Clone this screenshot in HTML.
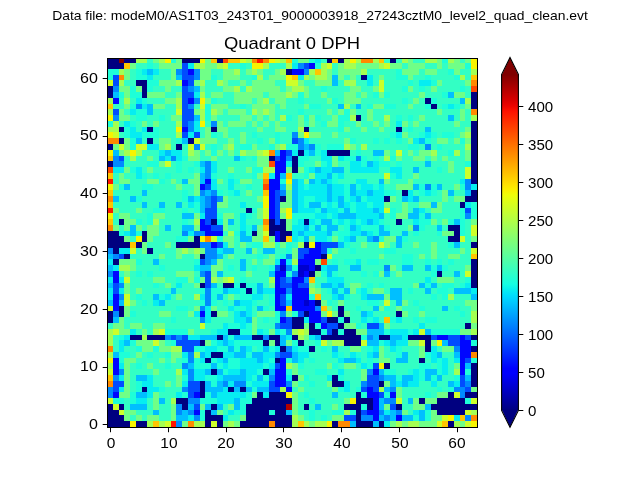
<!DOCTYPE html>
<html><head><meta charset="utf-8"><title>Quadrant 0 DPH</title>
<style>
html,body{margin:0;padding:0;background:#fff;}
body{width:640px;height:480px;position:relative;overflow:hidden;font-family:"Liberation Sans",sans-serif;color:#000;}
svg{position:absolute;display:block;}
.t{position:absolute;white-space:nowrap;line-height:1;will-change:transform;}
.sup{left:0;width:640px;top:9.8px;text-align:center;font-size:12.1px;transform:scaleX(1.148);transform-origin:320px 0;}
.ttl{left:107px;width:370px;top:35.3px;text-align:center;font-size:17px;transform:scaleX(1.083);transform-origin:184.8px 0;}
.yl{width:40px;text-align:right;font-size:14.1px;transform:scaleX(1.14);transform-origin:100% 50%;}
.xl{width:40px;text-align:center;font-size:14.1px;transform:scaleX(1.1);transform-origin:50% 50%;}
.cl{text-align:left;font-size:14.1px;transform:scaleX(1.07);transform-origin:0 50%;}
.frame{position:absolute;box-sizing:border-box;border:1.11px solid #000;}
</style></head><body>

<div class="t sup">Data file: modeM0/AS1T03_243T01_9000003918_27243cztM0_level2_quad_clean.evt</div>
<div class="t ttl">Quadrant 0 DPH</div>
<svg class="hm" style="left:107px;top:58px" width="370" height="369" viewBox="0 0 370 369" shape-rendering="crispEdges">
<path fill="#000080" d="M0 0h12v5h-12zM17 0h12v5h-12zM75 0h18v5h-18zM110 0h6v5h-6zM220 0h5v5h-5zM231 0h6v5h-6zM283 0h6v5h-6zM0 5h17v6h-17zM179 11h6v6h-6zM254 17h6v5h-6zM29 22h11v6h-11zM0 28h6v6h-6zM35 28h5v6h-5zM0 34h6v6h-6zM35 34h5v6h-5zM364 34h6v6h-6zM318 40h6v6h-6zM364 40h6v6h-6zM324 46h6v5h-6zM364 46h6v5h-6zM249 57h5v6h-5zM364 63h6v6h-6zM12 69h5v5h-5zM40 69h6v5h-6zM104 69h6v5h-6zM197 69h5v5h-5zM289 69h6v5h-6zM364 69h6v5h-6zM364 74h6v6h-6zM12 80h5v6h-5zM40 80h6v6h-6zM81 80h6v6h-6zM364 80h6v6h-6zM0 86h6v6h-6zM69 86h6v6h-6zM364 86h6v6h-6zM191 92h6v6h-6zM220 92h23v6h-23zM364 92h6v6h-6zM162 98h6v5h-6zM185 98h6v5h-6zM364 98h6v5h-6zM0 103h6v6h-6zM185 103h6v6h-6zM364 103h6v6h-6zM185 109h6v6h-6zM364 109h6v6h-6zM364 115h6v6h-6zM364 121h6v5h-6zM295 132h6v6h-6zM364 132h6v6h-6zM173 138h6v6h-6zM277 138h6v6h-6zM358 138h12v6h-12zM353 144h5v6h-5zM139 150h6v5h-6zM12 161h5v6h-5zM104 161h6v6h-6zM162 161h6v6h-6zM173 161h6v6h-6zM197 161h5v6h-5zM289 161h6v6h-6zM162 167h17v6h-17zM341 167h12v6h-12zM0 173h12v5h-12zM35 173h5v5h-5zM145 173h5v5h-5zM162 173h6v5h-6zM173 173h12v5h-12zM347 173h6v5h-6zM0 178h17v6h-17zM35 178h5v6h-5zM87 178h6v6h-6zM173 178h6v6h-6zM341 178h12v6h-12zM0 184h23v6h-23zM29 184h6v6h-6zM69 184h24v6h-24zM197 184h5v6h-5zM364 184h6v6h-6zM6 190h6v6h-6zM40 190h6v6h-6zM17 196h6v5h-6zM93 196h5v5h-5zM214 196h6v5h-6zM6 201h6v6h-6zM364 201h6v6h-6zM208 207h6v6h-6zM364 207h6v6h-6zM202 213h6v6h-6zM330 213h5v6h-5zM364 213h6v6h-6zM364 219h6v6h-6zM93 225h5v5h-5zM116 225h11v5h-11zM133 225h6v5h-6zM364 225h6v5h-6zM139 230h6v6h-6zM208 242h6v6h-6zM12 248h5v5h-5zM231 248h6v5h-6zM0 253h6v6h-6zM12 253h5v6h-5zM104 253h6v6h-6zM197 253h5v6h-5zM231 253h6v6h-6zM289 253h6v6h-6zM0 259h6v6h-6zM185 259h12v6h-12zM220 259h11v6h-11zM237 259h6v6h-6zM185 265h12v6h-12zM202 265h6v6h-6zM231 265h6v6h-6zM358 265h6v6h-6zM121 271h12v6h-12zM202 271h12v6h-12zM225 271h6v6h-6zM237 271h12v6h-12zM23 277h12v5h-12zM40 277h18v5h-18zM110 277h6v5h-6zM145 277h11v5h-11zM162 277h11v5h-11zM185 277h6v5h-6zM214 277h40v5h-40zM272 277h11v5h-11zM301 277h23v5h-23zM364 277h6v5h-6zM93 282h5v6h-5zM156 282h6v6h-6zM168 282h5v6h-5zM191 282h6v6h-6zM237 282h17v6h-17zM318 282h6v6h-6zM173 288h6v6h-6zM202 288h6v6h-6zM318 288h6v6h-6zM364 288h6v6h-6zM104 294h12v6h-12zM98 300h6v5h-6zM168 300h5v5h-5zM312 300h6v5h-6zM277 305h6v6h-6zM364 305h6v6h-6zM104 311h6v6h-6zM156 311h6v6h-6zM364 311h6v6h-6zM185 317h6v6h-6zM225 317h6v6h-6zM364 317h6v6h-6zM93 323h5v6h-5zM225 323h12v6h-12zM272 323h5v6h-5zM364 323h6v6h-6zM35 329h5v5h-5zM93 329h5v5h-5zM121 329h6v5h-6zM133 329h6v5h-6zM93 334h5v6h-5zM150 334h6v6h-6zM162 334h17v6h-17zM249 334h5v6h-5zM341 334h6v6h-6zM358 334h12v6h-12zM69 340h12v6h-12zM145 340h40v6h-40zM249 340h17v6h-17zM312 340h6v6h-6zM330 340h28v6h-28zM0 346h6v6h-6zM12 346h5v6h-5zM75 346h6v6h-6zM104 346h6v6h-6zM139 346h40v6h-40zM197 346h5v6h-5zM237 346h17v6h-17zM260 346h6v6h-6zM289 346h6v6h-6zM324 346h46v6h-46zM0 352h12v5h-12zM98 352h6v5h-6zM139 352h23v5h-23zM168 352h11v5h-11zM249 352h5v5h-5zM330 352h28v5h-28zM0 357h17v6h-17zM98 357h18v6h-18zM139 357h46v6h-46zM249 357h5v6h-5zM0 363h23v6h-23zM29 363h11v6h-11zM98 363h6v6h-6zM110 363h6v6h-6zM133 363h29v6h-29zM168 363h17v6h-17zM225 363h6v6h-6zM249 363h17v6h-17zM272 363h5v6h-5zM341 363h6v6h-6z"/>
<path fill="#800000" d="M12 0h5v5h-5z"/>
<path fill="#a4ff52" d="M29 0h11v5h-11zM52 0h6v5h-6zM139 0h6v5h-6zM173 0h6v5h-6zM237 0h6v5h-6zM249 0h5v5h-5zM266 0h6v5h-6zM295 0h6v5h-6zM318 0h12v5h-12zM341 0h6v5h-6zM87 5h11v6h-11zM110 5h6v6h-6zM156 5h6v6h-6zM179 5h6v6h-6zM214 5h6v6h-6zM237 5h12v6h-12zM272 5h5v6h-5zM12 11h5v6h-5zM127 11h6v6h-6zM145 11h5v6h-5zM173 11h6v6h-6zM202 11h6v6h-6zM214 11h6v6h-6zM254 11h6v6h-6zM364 11h6v6h-6zM150 17h6v5h-6zM197 17h5v5h-5zM208 17h12v5h-12zM353 17h5v5h-5zM12 22h5v6h-5zM69 22h6v6h-6zM93 22h5v6h-5zM110 22h6v6h-6zM237 22h12v6h-12zM127 28h6v6h-6zM139 28h6v6h-6zM185 28h12v6h-12zM93 34h5v6h-5zM179 34h6v6h-6zM0 40h6v6h-6zM17 40h6v6h-6zM69 40h6v6h-6zM156 40h6v6h-6zM358 40h6v6h-6zM69 46h6v5h-6zM237 46h6v5h-6zM0 51h6v6h-6zM93 51h5v6h-5zM104 51h6v6h-6zM145 51h5v6h-5zM156 51h6v6h-6zM93 57h5v6h-5zM173 57h6v6h-6zM243 57h6v6h-6zM277 57h6v6h-6zM364 57h6v6h-6zM6 63h6v6h-6zM69 63h6v6h-6zM0 69h12v5h-12zM191 69h6v5h-6zM69 74h6v6h-6zM358 74h6v6h-6zM58 86h6v6h-6zM121 86h6v6h-6zM173 86h6v6h-6zM237 86h6v6h-6zM254 86h6v6h-6zM358 86h6v6h-6zM17 92h6v6h-6zM29 92h6v6h-6zM81 92h6v6h-6zM133 92h6v6h-6zM150 92h6v6h-6zM324 92h6v6h-6zM347 92h6v6h-6zM23 98h6v5h-6zM277 98h6v5h-6zM156 109h12v6h-12zM179 126h6v6h-6zM173 150h6v5h-6zM46 161h6v6h-6zM87 161h6v6h-6zM121 173h6v5h-6zM156 184h12v6h-12zM191 184h6v6h-6zM75 190h6v6h-6zM87 190h6v6h-6zM185 201h6v6h-6zM12 207h11v6h-11zM104 219h6v6h-6zM116 219h5v6h-5zM162 219h6v6h-6zM202 230h6v6h-6zM87 236h6v6h-6zM341 236h6v6h-6zM364 253h6v6h-6zM364 259h6v6h-6zM0 271h6v6h-6zM46 271h6v6h-6zM185 271h6v6h-6zM197 271h5v6h-5zM364 271h6v6h-6zM0 277h6v5h-6zM35 277h5v5h-5zM191 277h6v5h-6zM0 282h6v6h-6zM225 282h12v6h-12zM64 288h11v6h-11zM0 294h6v6h-6zM87 294h6v6h-6zM0 305h6v6h-6zM179 305h6v6h-6zM69 311h6v6h-6zM347 311h6v6h-6zM173 329h6v5h-6zM272 329h5v5h-5zM64 340h5v6h-5zM237 352h6v5h-6zM364 352h6v5h-6zM185 357h6v6h-6zM40 363h6v6h-6zM52 363h6v6h-6zM87 363h11v6h-11zM121 363h6v6h-6zM185 363h6v6h-6zM197 363h5v6h-5zM208 363h12v6h-12zM289 363h6v6h-6zM301 363h11v6h-11zM347 363h6v6h-6z"/>
<path fill="#33ffc4" d="M40 0h6v5h-6zM214 0h6v5h-6zM277 0h6v5h-6zM289 0h6v5h-6zM306 0h12v5h-12zM353 0h5v5h-5zM29 5h11v6h-11zM46 5h6v6h-6zM121 5h12v6h-12zM139 5h6v6h-6zM162 5h17v6h-17zM225 5h6v6h-6zM295 5h6v6h-6zM318 5h12v6h-12zM335 5h6v6h-6zM23 11h6v6h-6zM52 11h12v6h-12zM104 11h12v6h-12zM133 11h6v6h-6zM156 11h12v6h-12zM225 11h6v6h-6zM260 11h29v6h-29zM312 11h6v6h-6zM330 11h11v6h-11zM353 11h11v6h-11zM23 17h6v5h-6zM46 17h18v5h-18zM110 17h6v5h-6zM133 17h12v5h-12zM156 17h6v5h-6zM237 17h6v5h-6zM249 17h5v5h-5zM266 17h6v5h-6zM277 17h12v5h-12zM306 17h12v5h-12zM324 17h23v5h-23zM358 17h6v5h-6zM17 22h12v6h-12zM98 22h12v6h-12zM121 22h12v6h-12zM139 22h6v6h-6zM168 22h11v6h-11zM197 22h11v6h-11zM231 22h6v6h-6zM249 22h11v6h-11zM266 22h6v6h-6zM277 22h24v6h-24zM306 22h6v6h-6zM335 22h23v6h-23zM46 28h12v6h-12zM64 28h11v6h-11zM98 28h18v6h-18zM133 28h6v6h-6zM173 28h6v6h-6zM202 28h12v6h-12zM220 28h23v6h-23zM254 28h12v6h-12zM277 28h18v6h-18zM306 28h6v6h-6zM318 28h6v6h-6zM330 28h23v6h-23zM358 28h6v6h-6zM58 34h11v6h-11zM98 34h6v6h-6zM116 34h11v6h-11zM156 34h6v6h-6zM202 34h12v6h-12zM220 34h17v6h-17zM249 34h5v6h-5zM260 34h6v6h-6zM283 34h29v6h-29zM318 34h17v6h-17zM358 34h6v6h-6zM12 40h5v6h-5zM23 40h6v6h-6zM40 40h18v6h-18zM110 40h17v6h-17zM145 40h5v6h-5zM162 40h6v6h-6zM179 40h12v6h-12zM197 40h23v6h-23zM231 40h6v6h-6zM254 40h41v6h-41zM301 40h5v6h-5zM312 40h6v6h-6zM330 40h23v6h-23zM6 46h11v5h-11zM58 46h11v5h-11zM87 46h6v5h-6zM121 46h12v5h-12zM139 46h6v5h-6zM168 46h5v5h-5zM179 46h18v5h-18zM214 46h17v5h-17zM243 46h6v5h-6zM254 46h6v5h-6zM289 46h12v5h-12zM306 46h12v5h-12zM330 46h5v5h-5zM353 46h5v5h-5zM17 51h6v6h-6zM46 51h23v6h-23zM116 51h5v6h-5zM139 51h6v6h-6zM168 51h23v6h-23zM197 51h23v6h-23zM225 51h6v6h-6zM249 51h11v6h-11zM266 51h64v6h-64zM335 51h18v6h-18zM358 51h6v6h-6zM23 57h6v6h-6zM40 57h12v6h-12zM58 57h6v6h-6zM110 57h23v6h-23zM145 57h5v6h-5zM156 57h6v6h-6zM168 57h5v6h-5zM185 57h6v6h-6zM214 57h11v6h-11zM254 57h6v6h-6zM266 57h11v6h-11zM283 57h6v6h-6zM295 57h6v6h-6zM306 57h6v6h-6zM318 57h23v6h-23zM347 57h6v6h-6zM358 57h6v6h-6zM12 63h5v6h-5zM29 63h6v6h-6zM40 63h6v6h-6zM52 63h17v6h-17zM98 63h6v6h-6zM116 63h5v6h-5zM139 63h6v6h-6zM150 63h6v6h-6zM162 63h6v6h-6zM173 63h18v6h-18zM197 63h5v6h-5zM208 63h6v6h-6zM237 63h12v6h-12zM254 63h12v6h-12zM272 63h5v6h-5zM283 63h6v6h-6zM301 63h5v6h-5zM312 63h35v6h-35zM353 63h11v6h-11zM29 69h6v5h-6zM52 69h17v5h-17zM93 69h5v5h-5zM121 69h29v5h-29zM156 69h12v5h-12zM179 69h12v5h-12zM202 69h29v5h-29zM243 69h11v5h-11zM260 69h12v5h-12zM277 69h12v5h-12zM295 69h6v5h-6zM306 69h12v5h-12zM324 69h34v5h-34zM12 74h5v6h-5zM52 74h17v6h-17zM93 74h5v6h-5zM110 74h6v6h-6zM121 74h12v6h-12zM139 74h6v6h-6zM150 74h18v6h-18zM173 74h12v6h-12zM214 74h11v6h-11zM231 74h52v6h-52zM301 74h11v6h-11zM330 74h5v6h-5zM347 74h6v6h-6zM35 80h5v6h-5zM46 80h6v6h-6zM64 80h5v6h-5zM110 80h11v6h-11zM127 80h6v6h-6zM139 80h11v6h-11zM156 80h6v6h-6zM173 80h12v6h-12zM202 80h35v6h-35zM249 80h17v6h-17zM272 80h5v6h-5zM283 80h6v6h-6zM295 80h6v6h-6zM324 80h6v6h-6zM341 80h6v6h-6zM64 86h5v6h-5zM75 86h6v6h-6zM98 86h6v6h-6zM110 86h6v6h-6zM127 86h6v6h-6zM150 86h12v6h-12zM214 86h6v6h-6zM249 86h5v6h-5zM260 86h41v6h-41zM312 86h6v6h-6zM324 86h6v6h-6zM335 86h23v6h-23zM35 92h17v6h-17zM75 92h6v6h-6zM93 92h5v6h-5zM116 92h5v6h-5zM127 92h6v6h-6zM243 92h6v6h-6zM254 92h12v6h-12zM283 92h6v6h-6zM295 92h6v6h-6zM306 92h6v6h-6zM330 92h11v6h-11zM353 92h5v6h-5zM17 98h6v5h-6zM29 98h11v5h-11zM46 98h6v5h-6zM93 98h11v5h-11zM110 98h17v5h-17zM139 98h6v5h-6zM202 98h12v5h-12zM260 98h6v5h-6zM272 98h5v5h-5zM295 98h11v5h-11zM318 98h6v5h-6zM330 98h5v5h-5zM341 98h17v5h-17zM17 103h23v6h-23zM64 103h5v6h-5zM75 103h12v6h-12zM110 103h40v6h-40zM197 103h11v6h-11zM231 103h12v6h-12zM283 103h6v6h-6zM295 103h23v6h-23zM324 103h17v6h-17zM347 103h11v6h-11zM35 109h5v6h-5zM46 109h23v6h-23zM75 109h6v6h-6zM87 109h6v6h-6zM110 109h11v6h-11zM127 109h12v6h-12zM237 109h6v6h-6zM272 109h11v6h-11zM295 109h11v6h-11zM312 109h18v6h-18zM335 109h6v6h-6zM347 109h11v6h-11zM6 115h6v6h-6zM17 115h12v6h-12zM40 115h6v6h-6zM52 115h6v6h-6zM64 115h23v6h-23zM110 115h11v6h-11zM127 115h18v6h-18zM185 115h12v6h-12zM237 115h40v6h-40zM295 115h11v6h-11zM312 115h46v6h-46zM6 121h6v5h-6zM23 121h17v5h-17zM58 121h6v5h-6zM69 121h6v5h-6zM116 121h5v5h-5zM145 121h11v5h-11zM231 121h18v5h-18zM260 121h12v5h-12zM283 121h18v5h-18zM306 121h47v5h-47zM23 126h12v6h-12zM46 126h23v6h-23zM75 126h12v6h-12zM110 126h11v6h-11zM127 126h12v6h-12zM145 126h11v6h-11zM277 126h12v6h-12zM335 126h12v6h-12zM6 132h29v6h-29zM40 132h35v6h-35zM81 132h6v6h-6zM116 132h5v6h-5zM133 132h6v6h-6zM145 132h11v6h-11zM289 132h6v6h-6zM306 132h6v6h-6zM330 132h5v6h-5zM347 132h11v6h-11zM12 138h11v6h-11zM35 138h40v6h-40zM121 138h29v6h-29zM289 138h6v6h-6zM312 138h23v6h-23zM341 138h6v6h-6zM6 144h29v6h-29zM40 144h12v6h-12zM58 144h11v6h-11zM75 144h6v6h-6zM121 144h12v6h-12zM139 144h17v6h-17zM283 144h12v6h-12zM301 144h11v6h-11zM335 144h18v6h-18zM12 150h17v5h-17zM35 150h11v5h-11zM58 150h17v5h-17zM81 150h6v5h-6zM110 150h29v5h-29zM289 150h6v5h-6zM301 150h5v5h-5zM318 150h6v5h-6zM335 150h18v5h-18zM6 155h6v6h-6zM23 155h17v6h-17zM58 155h17v6h-17zM127 155h6v6h-6zM145 155h5v6h-5zM277 155h6v6h-6zM324 155h29v6h-29zM6 161h6v6h-6zM35 161h5v6h-5zM52 161h23v6h-23zM81 161h6v6h-6zM127 161h6v6h-6zM139 161h17v6h-17zM277 161h12v6h-12zM295 161h11v6h-11zM330 161h5v6h-5zM358 161h6v6h-6zM12 167h5v6h-5zM35 167h5v6h-5zM52 167h6v6h-6zM64 167h11v6h-11zM121 167h12v6h-12zM231 167h6v6h-6zM283 167h18v6h-18zM318 167h12v6h-12zM335 167h6v6h-6zM358 167h6v6h-6zM52 173h23v5h-23zM116 173h5v5h-5zM225 173h6v5h-6zM283 173h12v5h-12zM301 173h5v5h-5zM312 173h18v5h-18zM358 173h6v5h-6zM23 178h6v6h-6zM46 178h23v6h-23zM127 178h6v6h-6zM249 178h11v6h-11zM301 178h40v6h-40zM358 178h6v6h-6zM40 184h18v6h-18zM64 184h5v6h-5zM127 184h6v6h-6zM139 184h6v6h-6zM168 184h5v6h-5zM185 184h6v6h-6zM243 184h11v6h-11zM260 184h12v6h-12zM283 184h6v6h-6zM295 184h11v6h-11zM312 184h12v6h-12zM330 184h11v6h-11zM353 184h11v6h-11zM29 190h6v6h-6zM46 190h23v6h-23zM127 190h12v6h-12zM150 190h6v6h-6zM168 190h11v6h-11zM231 190h12v6h-12zM249 190h28v6h-28zM289 190h35v6h-35zM330 190h23v6h-23zM358 190h6v6h-6zM23 196h29v5h-29zM58 196h11v5h-11zM75 196h12v5h-12zM116 196h5v5h-5zM127 196h23v5h-23zM156 196h6v5h-6zM168 196h5v5h-5zM225 196h47v5h-47zM277 196h18v5h-18zM306 196h6v5h-6zM318 196h6v5h-6zM330 196h11v5h-11zM353 196h11v5h-11zM35 201h11v6h-11zM52 201h35v6h-35zM116 201h17v6h-17zM139 201h6v6h-6zM150 201h6v6h-6zM220 201h5v6h-5zM231 201h6v6h-6zM254 201h6v6h-6zM272 201h23v6h-23zM306 201h12v6h-12zM324 201h6v6h-6zM335 201h6v6h-6zM347 201h17v6h-17zM29 207h23v6h-23zM58 207h29v6h-29zM116 207h5v6h-5zM127 207h6v6h-6zM139 207h6v6h-6zM150 207h12v6h-12zM231 207h12v6h-12zM254 207h23v6h-23zM289 207h6v6h-6zM306 207h12v6h-12zM341 207h17v6h-17zM12 213h5v6h-5zM23 213h6v6h-6zM35 213h5v6h-5zM46 213h23v6h-23zM87 213h6v6h-6zM116 213h23v6h-23zM145 213h17v6h-17zM231 213h23v6h-23zM260 213h6v6h-6zM283 213h6v6h-6zM295 213h29v6h-29zM335 213h12v6h-12zM353 213h5v6h-5zM23 219h23v6h-23zM58 219h11v6h-11zM127 219h6v6h-6zM139 219h23v6h-23zM208 219h12v6h-12zM237 219h81v6h-81zM324 219h6v6h-6zM347 219h11v6h-11zM23 225h23v5h-23zM52 225h6v5h-6zM64 225h5v5h-5zM75 225h12v5h-12zM110 225h6v5h-6zM156 225h6v5h-6zM208 225h6v5h-6zM237 225h6v5h-6zM254 225h6v5h-6zM266 225h6v5h-6zM277 225h29v5h-29zM330 225h5v5h-5zM347 225h6v5h-6zM23 230h6v6h-6zM35 230h29v6h-29zM69 230h24v6h-24zM214 230h6v6h-6zM260 230h6v6h-6zM277 230h6v6h-6zM295 230h6v6h-6zM306 230h12v6h-12zM324 230h6v6h-6zM341 230h6v6h-6zM23 236h6v6h-6zM35 236h11v6h-11zM64 236h5v6h-5zM75 236h12v6h-12zM116 236h5v6h-5zM127 236h6v6h-6zM156 236h6v6h-6zM214 236h11v6h-11zM243 236h11v6h-11zM295 236h29v6h-29zM330 236h5v6h-5zM347 236h17v6h-17zM29 242h6v6h-6zM40 242h6v6h-6zM58 242h35v6h-35zM110 242h6v6h-6zM121 242h6v6h-6zM150 242h12v6h-12zM225 242h6v6h-6zM237 242h23v6h-23zM272 242h5v6h-5zM283 242h6v6h-6zM301 242h5v6h-5zM312 242h46v6h-46zM23 248h46v5h-46zM81 248h6v5h-6zM110 248h11v5h-11zM145 248h5v5h-5zM162 248h6v5h-6zM225 248h6v5h-6zM237 248h12v5h-12zM254 248h12v5h-12zM283 248h6v5h-6zM295 248h17v5h-17zM318 248h17v5h-17zM341 248h6v5h-6zM353 248h11v5h-11zM29 253h23v6h-23zM64 253h17v6h-17zM121 253h6v6h-6zM145 253h5v6h-5zM243 253h11v6h-11zM266 253h23v6h-23zM301 253h11v6h-11zM318 253h35v6h-35zM358 253h6v6h-6zM17 259h47v6h-47zM69 259h24v6h-24zM104 259h23v6h-23zM150 259h6v6h-6zM162 259h6v6h-6zM243 259h11v6h-11zM272 259h5v6h-5zM295 259h11v6h-11zM312 259h6v6h-6zM330 259h34v6h-34zM0 265h6v6h-6zM17 265h6v6h-6zM35 265h11v6h-11zM58 265h35v6h-35zM98 265h18v6h-18zM150 265h18v6h-18zM254 265h6v6h-6zM283 265h29v6h-29zM318 265h40v6h-40zM29 271h6v6h-6zM40 271h6v6h-6zM87 271h17v6h-17zM6 277h6v5h-6zM6 282h6v6h-6zM58 282h6v6h-6zM197 282h11v6h-11zM6 288h6v6h-6zM17 288h12v6h-12zM145 288h5v6h-5zM208 288h6v6h-6zM220 288h5v6h-5zM231 288h12v6h-12zM254 288h6v6h-6zM277 288h6v6h-6zM295 288h17v6h-17zM330 288h5v6h-5zM23 294h6v6h-6zM35 294h5v6h-5zM46 294h12v6h-12zM202 294h23v6h-23zM237 294h6v6h-6zM254 294h6v6h-6zM277 294h12v6h-12zM301 294h11v6h-11zM335 294h12v6h-12zM29 300h23v5h-23zM58 300h6v5h-6zM69 300h6v5h-6zM197 300h5v5h-5zM208 300h23v5h-23zM254 300h6v5h-6zM266 300h6v5h-6zM283 300h6v5h-6zM301 300h11v5h-11zM318 300h6v5h-6zM341 300h6v5h-6zM23 305h6v6h-6zM35 305h5v6h-5zM46 305h12v6h-12zM64 305h11v6h-11zM197 305h23v6h-23zM231 305h6v6h-6zM249 305h5v6h-5zM283 305h29v6h-29zM324 305h6v6h-6zM341 305h6v6h-6zM23 311h23v6h-23zM52 311h17v6h-17zM191 311h17v6h-17zM220 311h11v6h-11zM237 311h17v6h-17zM289 311h12v6h-12zM341 311h6v6h-6zM23 317h6v6h-6zM46 317h23v6h-23zM202 317h18v6h-18zM237 317h17v6h-17zM335 317h12v6h-12zM23 323h6v6h-6zM46 323h12v6h-12zM64 323h5v6h-5zM191 323h11v6h-11zM208 323h12v6h-12zM243 323h11v6h-11zM312 323h12v6h-12zM330 323h11v6h-11zM23 329h6v5h-6zM58 329h17v5h-17zM185 329h6v5h-6zM197 329h28v5h-28zM243 329h6v5h-6zM295 329h35v5h-35zM335 329h6v5h-6zM52 334h17v6h-17zM191 334h6v6h-6zM202 334h23v6h-23zM231 334h18v6h-18zM295 334h23v6h-23zM324 334h6v6h-6zM17 340h6v6h-6zM40 340h6v6h-6zM58 340h6v6h-6zM191 340h11v6h-11zM208 340h29v6h-29zM295 340h6v6h-6zM17 346h6v6h-6zM40 346h6v6h-6zM52 346h12v6h-12zM116 346h5v6h-5zM191 346h6v6h-6zM202 346h6v6h-6zM214 346h11v6h-11zM231 346h6v6h-6zM295 346h11v6h-11zM29 352h17v5h-17zM52 352h12v5h-12zM116 352h5v5h-5zM191 352h11v5h-11zM208 352h17v5h-17zM301 352h5v5h-5zM23 357h6v6h-6zM35 357h5v6h-5zM52 357h12v6h-12zM121 357h12v6h-12zM197 357h5v6h-5zM208 357h6v6h-6zM220 357h5v6h-5z"/>
<path fill="#70ff87" d="M46 0h6v5h-6zM69 0h6v5h-6zM98 0h6v5h-6zM191 0h11v5h-11zM301 0h5v5h-5zM330 0h5v5h-5zM347 0h6v5h-6zM358 0h6v5h-6zM23 5h6v6h-6zM52 5h23v6h-23zM98 5h12v6h-12zM231 5h6v6h-6zM249 5h23v6h-23zM283 5h12v6h-12zM301 5h17v6h-17zM330 5h5v6h-5zM341 5h17v6h-17zM17 11h6v6h-6zM64 11h5v6h-5zM93 11h11v6h-11zM116 11h11v6h-11zM139 11h6v6h-6zM150 11h6v6h-6zM168 11h5v6h-5zM220 11h5v6h-5zM231 11h23v6h-23zM295 11h17v6h-17zM318 11h12v6h-12zM347 11h6v6h-6zM17 17h6v5h-6zM64 17h5v5h-5zM93 17h11v5h-11zM116 17h17v5h-17zM162 17h17v5h-17zM202 17h6v5h-6zM220 17h5v5h-5zM231 17h6v5h-6zM243 17h6v5h-6zM272 17h5v5h-5zM301 17h5v5h-5zM52 22h17v6h-17zM87 22h6v6h-6zM116 22h5v6h-5zM133 22h6v6h-6zM145 22h23v6h-23zM191 22h6v6h-6zM208 22h17v6h-17zM330 22h5v6h-5zM358 22h6v6h-6zM12 28h11v6h-11zM29 28h6v6h-6zM58 28h6v6h-6zM93 28h5v6h-5zM116 28h11v6h-11zM145 28h28v6h-28zM179 28h6v6h-6zM197 28h5v6h-5zM243 28h11v6h-11zM266 28h6v6h-6zM301 28h5v6h-5zM324 28h6v6h-6zM17 34h6v6h-6zM40 34h18v6h-18zM69 34h6v6h-6zM104 34h12v6h-12zM127 34h29v6h-29zM162 34h17v6h-17zM185 34h6v6h-6zM197 34h5v6h-5zM214 34h6v6h-6zM237 34h12v6h-12zM254 34h6v6h-6zM272 34h5v6h-5zM312 34h6v6h-6zM347 34h11v6h-11zM58 40h11v6h-11zM98 40h6v6h-6zM127 40h18v6h-18zM150 40h6v6h-6zM168 40h11v6h-11zM220 40h5v6h-5zM237 40h17v6h-17zM306 40h6v6h-6zM17 46h6v5h-6zM46 46h12v5h-12zM104 46h17v5h-17zM145 46h23v5h-23zM173 46h6v5h-6zM197 46h5v5h-5zM266 46h11v5h-11zM301 46h5v5h-5zM358 46h6v5h-6zM12 51h5v6h-5zM87 51h6v6h-6zM110 51h6v6h-6zM121 51h18v6h-18zM150 51h6v6h-6zM162 51h6v6h-6zM220 51h5v6h-5zM231 51h6v6h-6zM243 51h6v6h-6zM260 51h6v6h-6zM330 51h5v6h-5zM353 51h5v6h-5zM12 57h11v6h-11zM64 57h11v6h-11zM104 57h6v6h-6zM133 57h12v6h-12zM150 57h6v6h-6zM162 57h6v6h-6zM191 57h6v6h-6zM202 57h6v6h-6zM225 57h6v6h-6zM260 57h6v6h-6zM312 57h6v6h-6zM353 57h5v6h-5zM35 63h5v6h-5zM46 63h6v6h-6zM110 63h6v6h-6zM121 63h18v6h-18zM145 63h5v6h-5zM156 63h6v6h-6zM168 63h5v6h-5zM191 63h6v6h-6zM202 63h6v6h-6zM220 63h11v6h-11zM249 63h5v6h-5zM266 63h6v6h-6zM277 63h6v6h-6zM295 63h6v6h-6zM306 63h6v6h-6zM347 63h6v6h-6zM98 69h6v5h-6zM110 69h11v5h-11zM150 69h6v5h-6zM168 69h11v5h-11zM237 69h6v5h-6zM254 69h6v5h-6zM272 69h5v5h-5zM358 69h6v5h-6zM98 74h6v6h-6zM116 74h5v6h-5zM133 74h6v6h-6zM191 74h6v6h-6zM202 74h12v6h-12zM225 74h6v6h-6zM295 74h6v6h-6zM353 74h5v6h-5zM17 80h6v6h-6zM52 80h12v6h-12zM93 80h17v6h-17zM121 80h6v6h-6zM133 80h6v6h-6zM162 80h6v6h-6zM237 80h6v6h-6zM301 80h5v6h-5zM330 80h11v6h-11zM347 80h6v6h-6zM358 80h6v6h-6zM6 86h6v6h-6zM17 86h6v6h-6zM52 86h6v6h-6zM116 86h5v6h-5zM145 86h5v6h-5zM168 86h5v6h-5zM243 86h6v6h-6zM12 92h5v6h-5zM87 92h6v6h-6zM98 92h6v6h-6zM110 92h6v6h-6zM121 92h6v6h-6zM139 92h11v6h-11zM277 92h6v6h-6zM301 92h5v6h-5zM312 92h12v6h-12zM358 92h6v6h-6zM40 98h6v5h-6zM81 98h12v5h-12zM104 98h6v5h-6zM150 98h12v5h-12zM225 98h6v5h-6zM289 98h6v5h-6zM306 98h12v5h-12zM324 98h6v5h-6zM335 98h6v5h-6zM358 98h6v5h-6zM52 103h6v6h-6zM150 103h12v6h-12zM208 103h6v6h-6zM225 103h6v6h-6zM341 103h6v6h-6zM17 109h6v6h-6zM40 109h6v6h-6zM121 109h6v6h-6zM139 109h6v6h-6zM179 109h6v6h-6zM191 109h6v6h-6zM341 109h6v6h-6zM12 115h5v6h-5zM87 115h6v6h-6zM150 115h6v6h-6zM202 115h6v6h-6zM306 115h6v6h-6zM12 121h11v5h-11zM40 121h12v5h-12zM64 121h5v5h-5zM81 121h12v5h-12zM110 121h6v5h-6zM133 121h12v5h-12zM197 121h5v5h-5zM277 121h6v5h-6zM301 121h5v5h-5zM6 126h6v6h-6zM69 126h6v6h-6zM87 126h6v6h-6zM289 126h17v6h-17zM347 126h6v6h-6zM87 132h6v6h-6zM139 132h6v6h-6zM179 132h6v6h-6zM335 132h6v6h-6zM116 138h5v6h-5zM150 138h6v6h-6zM179 138h6v6h-6zM283 138h6v6h-6zM335 138h6v6h-6zM347 138h11v6h-11zM110 144h11v6h-11zM173 144h12v6h-12zM277 144h6v6h-6zM295 144h6v6h-6zM312 144h12v6h-12zM330 144h5v6h-5zM6 150h6v5h-6zM29 150h6v5h-6zM150 150h6v5h-6zM295 150h6v5h-6zM324 150h11v5h-11zM12 155h11v6h-11zM46 155h12v6h-12zM87 155h6v6h-6zM116 155h11v6h-11zM150 155h6v6h-6zM173 155h6v6h-6zM289 155h12v6h-12zM17 161h12v6h-12zM116 161h5v6h-5zM179 161h6v6h-6zM324 161h6v6h-6zM335 161h6v6h-6zM364 161h6v6h-6zM6 167h6v6h-6zM17 167h6v6h-6zM29 167h6v6h-6zM40 167h12v6h-12zM87 167h6v6h-6zM116 167h5v6h-5zM150 167h6v6h-6zM179 167h6v6h-6zM301 167h5v6h-5zM40 173h12v5h-12zM150 173h6v5h-6zM335 173h12v5h-12zM17 178h6v6h-6zM40 178h6v6h-6zM81 178h6v6h-6zM116 178h11v6h-11zM145 178h11v6h-11zM162 178h6v6h-6zM202 178h6v6h-6zM225 178h6v6h-6zM277 178h12v6h-12zM364 178h6v6h-6zM35 184h5v6h-5zM58 184h6v6h-6zM121 184h6v6h-6zM133 184h6v6h-6zM173 184h6v6h-6zM254 184h6v6h-6zM277 184h6v6h-6zM306 184h6v6h-6zM324 184h6v6h-6zM35 190h5v6h-5zM69 190h6v6h-6zM81 190h6v6h-6zM93 190h5v6h-5zM145 190h5v6h-5zM185 190h6v6h-6zM225 190h6v6h-6zM324 190h6v6h-6zM353 190h5v6h-5zM52 196h6v5h-6zM69 196h6v5h-6zM87 196h6v5h-6zM121 196h6v5h-6zM162 196h6v5h-6zM185 196h6v5h-6zM272 196h5v5h-5zM312 196h6v5h-6zM324 196h6v5h-6zM341 196h12v5h-12zM12 201h17v6h-17zM110 201h6v6h-6zM145 201h5v6h-5zM156 201h12v6h-12zM208 201h6v6h-6zM23 207h6v6h-6zM104 207h12v6h-12zM283 207h6v6h-6zM358 207h6v6h-6zM17 213h6v6h-6zM69 213h18v6h-18zM104 213h6v6h-6zM139 213h6v6h-6zM208 213h6v6h-6zM272 213h5v6h-5zM289 213h6v6h-6zM46 219h12v6h-12zM81 219h6v6h-6zM93 219h5v6h-5zM110 219h6v6h-6zM330 219h17v6h-17zM17 225h6v5h-6zM58 225h6v5h-6zM87 225h6v5h-6zM162 225h6v5h-6zM202 225h6v5h-6zM243 225h11v5h-11zM306 225h6v5h-6zM17 230h6v6h-6zM29 230h6v6h-6zM208 230h6v6h-6zM243 230h6v6h-6zM266 230h11v6h-11zM69 236h6v6h-6zM121 236h6v6h-6zM277 236h6v6h-6zM23 242h6v6h-6zM214 242h6v6h-6zM231 242h6v6h-6zM295 242h6v6h-6zM358 242h12v6h-12zM17 248h6v5h-6zM87 248h6v5h-6zM104 248h6v5h-6zM220 248h5v5h-5zM272 248h5v5h-5zM289 248h6v5h-6zM364 248h6v5h-6zM17 253h6v6h-6zM52 253h12v6h-12zM81 253h6v6h-6zM110 253h11v6h-11zM150 253h18v6h-18zM179 253h6v6h-6zM214 253h6v6h-6zM225 253h6v6h-6zM237 253h6v6h-6zM295 253h6v6h-6zM312 253h6v6h-6zM12 259h5v6h-5zM145 259h5v6h-5zM6 265h11v6h-11zM23 265h12v6h-12zM46 265h12v6h-12zM145 265h5v6h-5zM197 265h5v6h-5zM237 265h12v6h-12zM277 265h6v6h-6zM364 265h6v6h-6zM12 271h11v6h-11zM35 271h5v6h-5zM81 271h6v6h-6zM145 271h5v6h-5zM162 271h6v6h-6zM249 271h11v6h-11zM353 271h11v6h-11zM197 277h5v5h-5zM29 282h17v6h-17zM52 282h6v6h-6zM98 282h6v6h-6zM162 282h6v6h-6zM179 282h6v6h-6zM220 282h5v6h-5zM301 282h11v6h-11zM324 282h6v6h-6zM35 288h11v6h-11zM52 288h12v6h-12zM243 288h11v6h-11zM272 288h5v6h-5zM312 288h6v6h-6zM335 288h12v6h-12zM29 294h6v6h-6zM64 294h11v6h-11zM272 294h5v6h-5zM312 294h6v6h-6zM17 300h12v5h-12zM52 300h6v5h-6zM64 300h5v5h-5zM272 300h11v5h-11zM17 305h6v6h-6zM40 305h6v6h-6zM185 305h6v6h-6zM220 305h5v6h-5zM237 305h12v6h-12zM347 305h6v6h-6zM17 311h6v6h-6zM46 311h6v6h-6zM185 311h6v6h-6zM254 311h6v6h-6zM17 317h6v6h-6zM69 317h6v6h-6zM191 317h6v6h-6zM254 317h6v6h-6zM17 323h6v6h-6zM58 323h6v6h-6zM69 323h6v6h-6zM185 323h6v6h-6zM220 323h5v6h-5zM277 323h6v6h-6zM17 329h6v5h-6zM191 329h6v5h-6zM225 329h6v5h-6zM289 329h6v5h-6zM364 329h6v5h-6zM12 334h11v6h-11zM46 334h6v6h-6zM145 334h5v6h-5zM185 334h6v6h-6zM289 334h6v6h-6zM330 334h11v6h-11zM46 340h6v6h-6zM185 340h6v6h-6zM237 340h6v6h-6zM306 340h6v6h-6zM318 340h12v6h-12zM46 346h6v6h-6zM64 346h5v6h-5zM93 346h5v6h-5zM121 346h6v6h-6zM185 346h6v6h-6zM225 346h6v6h-6zM277 346h6v6h-6zM306 346h12v6h-12zM17 352h12v5h-12zM64 352h5v5h-5zM110 352h6v5h-6zM185 352h6v5h-6zM295 352h6v5h-6zM324 352h6v5h-6zM17 357h6v6h-6zM29 357h6v6h-6zM40 357h12v6h-12zM64 357h5v6h-5zM133 357h6v6h-6zM191 357h6v6h-6zM225 357h12v6h-12zM324 357h11v6h-11zM75 363h6v6h-6zM116 363h5v6h-5zM127 363h6v6h-6zM202 363h6v6h-6zM283 363h6v6h-6zM295 363h6v6h-6zM312 363h18v6h-18zM353 363h5v6h-5z"/>
<path fill="#f8f400" d="M58 0h6v5h-6zM93 0h5v5h-5zM162 0h6v5h-6zM243 0h6v5h-6zM364 0h6v5h-6zM145 5h11v6h-11zM364 5h6v6h-6zM179 17h6v5h-6zM93 40h5v6h-5zM0 57h6v6h-6zM93 63h5v6h-5zM69 69h6v5h-6zM0 74h6v6h-6zM197 74h5v6h-5zM0 92h6v6h-6zM23 92h6v6h-6zM179 121h6v5h-6zM0 126h6v6h-6zM156 138h6v6h-6zM156 144h6v6h-6zM179 150h6v5h-6zM0 155h6v6h-6zM179 155h6v6h-6zM29 178h6v6h-6zM93 178h5v6h-5zM202 184h6v6h-6zM220 253h5v6h-5zM330 282h5v6h-5zM0 300h6v5h-6zM272 305h5v6h-5zM179 334h6v6h-6zM243 340h6v6h-6zM341 357h6v6h-6zM23 363h6v6h-6zM220 363h5v6h-5zM364 363h6v6h-6z"/>
<path fill="#1effd8" d="M64 0h5v5h-5zM185 0h6v5h-6zM202 0h6v5h-6zM335 0h6v5h-6zM40 5h6v6h-6zM133 5h6v6h-6zM208 5h6v6h-6zM358 5h6v6h-6zM0 11h12v6h-12zM29 11h6v6h-6zM289 11h6v6h-6zM341 11h6v6h-6zM0 17h6v5h-6zM29 17h11v5h-11zM104 17h6v5h-6zM145 17h5v5h-5zM289 17h12v5h-12zM318 17h6v5h-6zM347 17h6v5h-6zM40 22h12v6h-12zM301 22h5v6h-5zM324 22h6v6h-6zM23 28h6v6h-6zM40 28h6v6h-6zM214 28h6v6h-6zM295 28h6v6h-6zM312 28h6v6h-6zM353 28h5v6h-5zM12 34h5v6h-5zM23 34h12v6h-12zM191 34h6v6h-6zM266 34h6v6h-6zM277 34h6v6h-6zM335 34h6v6h-6zM35 40h5v6h-5zM104 40h6v6h-6zM191 40h6v6h-6zM225 40h6v6h-6zM295 40h6v6h-6zM324 40h6v6h-6zM23 46h6v5h-6zM98 46h6v5h-6zM133 46h6v5h-6zM202 46h12v5h-12zM260 46h6v5h-6zM277 46h12v5h-12zM318 46h6v5h-6zM335 46h6v5h-6zM347 46h6v5h-6zM29 51h11v6h-11zM98 51h6v6h-6zM191 51h6v6h-6zM237 51h6v6h-6zM29 57h11v6h-11zM52 57h6v6h-6zM98 57h6v6h-6zM179 57h6v6h-6zM197 57h5v6h-5zM208 57h6v6h-6zM231 57h12v6h-12zM289 57h6v6h-6zM301 57h5v6h-5zM0 63h6v6h-6zM23 63h6v6h-6zM214 63h6v6h-6zM231 63h6v6h-6zM17 69h6v5h-6zM46 69h6v5h-6zM231 69h6v5h-6zM301 69h5v5h-5zM17 74h6v6h-6zM35 74h17v6h-17zM104 74h6v6h-6zM145 74h5v6h-5zM168 74h5v6h-5zM283 74h6v6h-6zM312 74h6v6h-6zM324 74h6v6h-6zM335 74h12v6h-12zM23 80h6v6h-6zM69 80h6v6h-6zM150 80h6v6h-6zM168 80h5v6h-5zM243 80h6v6h-6zM266 80h6v6h-6zM277 80h6v6h-6zM289 80h6v6h-6zM318 80h6v6h-6zM353 80h5v6h-5zM23 86h6v6h-6zM104 86h6v6h-6zM133 86h12v6h-12zM162 86h6v6h-6zM179 86h12v6h-12zM208 86h6v6h-6zM220 86h17v6h-17zM301 86h11v6h-11zM330 86h5v6h-5zM104 92h6v6h-6zM208 92h6v6h-6zM249 92h5v6h-5zM341 92h6v6h-6zM75 98h6v5h-6zM133 98h6v5h-6zM145 98h5v5h-5zM191 98h11v5h-11zM237 98h12v5h-12zM254 98h6v5h-6zM266 98h6v5h-6zM283 98h6v5h-6zM40 103h12v6h-12zM69 103h6v6h-6zM87 103h6v6h-6zM191 103h6v6h-6zM214 103h6v6h-6zM254 103h6v6h-6zM272 103h11v6h-11zM289 103h6v6h-6zM358 103h6v6h-6zM23 109h6v6h-6zM69 109h6v6h-6zM81 109h6v6h-6zM145 109h11v6h-11zM197 109h5v6h-5zM330 109h5v6h-5zM35 115h5v6h-5zM46 115h6v6h-6zM58 115h6v6h-6zM104 115h6v6h-6zM121 115h6v6h-6zM145 115h5v6h-5zM197 115h5v6h-5zM225 115h6v6h-6zM283 115h6v6h-6zM52 121h6v5h-6zM127 121h6v5h-6zM173 121h6v5h-6zM225 121h6v5h-6zM12 126h5v6h-5zM35 126h11v6h-11zM139 126h6v6h-6zM197 126h5v6h-5zM237 126h6v6h-6zM249 126h5v6h-5zM266 126h6v6h-6zM312 126h6v6h-6zM324 126h6v6h-6zM353 126h5v6h-5zM75 132h6v6h-6zM110 132h6v6h-6zM121 132h6v6h-6zM237 132h6v6h-6zM277 132h12v6h-12zM312 132h6v6h-6zM324 132h6v6h-6zM29 138h6v6h-6zM75 138h6v6h-6zM197 138h11v6h-11zM237 138h6v6h-6zM254 138h6v6h-6zM87 144h6v6h-6zM197 144h5v6h-5zM214 144h6v6h-6zM225 144h6v6h-6zM243 144h6v6h-6zM260 144h6v6h-6zM364 144h6v6h-6zM46 150h12v5h-12zM75 150h6v5h-6zM87 150h6v5h-6zM145 150h5v5h-5zM208 150h6v5h-6zM231 150h6v5h-6zM243 150h6v5h-6zM283 150h6v5h-6zM353 150h5v5h-5zM364 150h6v5h-6zM40 155h6v6h-6zM110 155h6v6h-6zM139 155h6v6h-6zM185 155h23v6h-23zM220 155h5v6h-5zM283 155h6v6h-6zM312 155h6v6h-6zM353 155h5v6h-5zM364 155h6v6h-6zM29 161h6v6h-6zM40 161h6v6h-6zM75 161h6v6h-6zM185 161h6v6h-6zM208 161h6v6h-6zM225 161h6v6h-6zM237 161h6v6h-6zM249 161h5v6h-5zM272 161h5v6h-5zM312 161h12v6h-12zM341 161h6v6h-6zM353 161h5v6h-5zM139 167h6v6h-6zM202 167h6v6h-6zM214 167h6v6h-6zM237 167h6v6h-6zM254 167h18v6h-18zM277 167h6v6h-6zM312 167h6v6h-6zM353 167h5v6h-5zM12 173h5v5h-5zM29 173h6v5h-6zM127 173h6v5h-6zM139 173h6v5h-6zM231 173h12v5h-12zM266 173h6v5h-6zM306 173h6v5h-6zM330 173h5v5h-5zM353 173h5v5h-5zM69 178h12v6h-12zM110 178h6v6h-6zM191 178h6v6h-6zM220 178h5v6h-5zM231 178h6v6h-6zM272 178h5v6h-5zM295 178h6v6h-6zM145 184h11v6h-11zM179 184h6v6h-6zM237 184h6v6h-6zM341 184h6v6h-6zM179 190h6v6h-6zM220 190h5v6h-5zM243 190h6v6h-6zM277 190h12v6h-12zM150 196h6v5h-6zM173 196h6v5h-6zM295 196h11v5h-11zM29 201h6v6h-6zM87 201h6v6h-6zM225 201h6v6h-6zM237 201h12v6h-12zM260 201h12v6h-12zM295 201h11v6h-11zM318 201h6v6h-6zM330 201h5v6h-5zM341 201h6v6h-6zM52 207h6v6h-6zM121 207h6v6h-6zM145 207h5v6h-5zM162 207h6v6h-6zM185 207h6v6h-6zM324 207h6v6h-6zM335 207h6v6h-6zM29 213h6v6h-6zM40 213h6v6h-6zM179 213h6v6h-6zM214 213h6v6h-6zM225 213h6v6h-6zM254 213h6v6h-6zM266 213h6v6h-6zM324 213h6v6h-6zM69 219h12v6h-12zM87 219h6v6h-6zM133 219h6v6h-6zM358 219h6v6h-6zM46 225h6v5h-6zM127 225h6v5h-6zM139 225h11v5h-11zM260 225h6v5h-6zM272 225h5v5h-5zM318 225h6v5h-6zM335 225h12v5h-12zM353 225h5v5h-5zM93 230h5v6h-5zM104 230h12v6h-12zM133 230h6v6h-6zM145 230h5v6h-5zM220 230h5v6h-5zM231 230h6v6h-6zM249 230h5v6h-5zM301 230h5v6h-5zM330 230h11v6h-11zM29 236h6v6h-6zM52 236h6v6h-6zM104 236h6v6h-6zM133 236h12v6h-12zM162 236h6v6h-6zM202 236h6v6h-6zM237 236h6v6h-6zM324 236h6v6h-6zM335 236h6v6h-6zM35 242h5v6h-5zM93 242h5v6h-5zM104 242h6v6h-6zM116 242h5v6h-5zM145 242h5v6h-5zM162 242h6v6h-6zM220 242h5v6h-5zM260 242h12v6h-12zM306 242h6v6h-6zM69 248h12v5h-12zM127 248h12v5h-12zM156 248h6v5h-6zM249 248h5v5h-5zM277 248h6v5h-6zM312 248h6v5h-6zM347 248h6v5h-6zM23 253h6v6h-6zM168 253h5v6h-5zM185 253h6v6h-6zM353 253h5v6h-5zM64 259h5v6h-5zM156 259h6v6h-6zM168 259h5v6h-5zM231 259h6v6h-6zM260 259h6v6h-6zM283 259h6v6h-6zM306 259h6v6h-6zM318 259h12v6h-12zM121 265h12v6h-12zM139 265h6v6h-6zM208 265h6v6h-6zM249 265h5v6h-5zM58 271h23v6h-23zM104 271h6v6h-6zM133 271h12v6h-12zM156 271h6v6h-6zM173 271h6v6h-6zM214 271h6v6h-6zM231 271h6v6h-6zM277 271h6v6h-6zM301 271h5v6h-5zM324 271h29v6h-29zM12 277h5v5h-5zM121 277h6v5h-6zM254 277h6v5h-6zM23 282h6v6h-6zM64 282h5v6h-5zM104 282h6v6h-6zM127 282h29v6h-29zM185 282h6v6h-6zM208 282h6v6h-6zM272 282h5v6h-5zM364 282h6v6h-6zM29 288h6v6h-6zM46 288h6v6h-6zM87 288h11v6h-11zM110 288h11v6h-11zM127 288h6v6h-6zM150 288h6v6h-6zM162 288h6v6h-6zM191 288h11v6h-11zM214 288h6v6h-6zM260 288h6v6h-6zM289 288h6v6h-6zM12 294h11v6h-11zM40 294h6v6h-6zM58 294h6v6h-6zM139 294h6v6h-6zM231 294h6v6h-6zM249 294h5v6h-5zM289 294h6v6h-6zM318 294h6v6h-6zM12 300h5v5h-5zM75 300h6v5h-6zM87 300h6v5h-6zM104 300h6v5h-6zM121 300h12v5h-12zM162 300h6v5h-6zM179 300h6v5h-6zM202 300h6v5h-6zM260 300h6v5h-6zM330 300h5v5h-5zM364 300h6v5h-6zM29 305h6v6h-6zM58 305h6v6h-6zM87 305h17v6h-17zM110 305h6v6h-6zM121 305h12v6h-12zM156 305h6v6h-6zM191 305h6v6h-6zM225 305h6v6h-6zM260 305h6v6h-6zM312 305h12v6h-12zM330 305h5v6h-5zM116 311h5v6h-5zM150 311h6v6h-6zM179 311h6v6h-6zM208 311h12v6h-12zM277 311h12v6h-12zM301 311h5v6h-5zM312 311h6v6h-6zM330 311h5v6h-5zM358 311h6v6h-6zM75 317h6v6h-6zM98 317h12v6h-12zM145 317h5v6h-5zM156 317h6v6h-6zM197 317h5v6h-5zM231 317h6v6h-6zM289 317h6v6h-6zM312 317h6v6h-6zM324 317h6v6h-6zM347 317h6v6h-6zM29 323h6v6h-6zM104 323h6v6h-6zM139 323h6v6h-6zM202 323h6v6h-6zM29 329h6v5h-6zM52 329h6v5h-6zM145 329h5v5h-5zM231 329h6v5h-6zM249 329h5v5h-5zM330 329h5v5h-5zM341 329h6v5h-6zM23 334h6v6h-6zM75 334h6v6h-6zM98 334h6v6h-6zM139 334h6v6h-6zM197 334h5v6h-5zM254 334h6v6h-6zM277 334h6v6h-6zM318 334h6v6h-6zM6 340h11v6h-11zM23 340h6v6h-6zM93 340h17v6h-17zM133 340h12v6h-12zM202 340h6v6h-6zM358 340h6v6h-6zM133 346h6v6h-6zM254 346h6v6h-6zM93 352h5v5h-5zM127 352h12v5h-12zM162 352h6v5h-6zM202 352h6v5h-6zM225 352h12v5h-12zM243 352h6v5h-6zM318 352h6v5h-6zM93 357h5v6h-5zM202 357h6v6h-6zM214 357h6v6h-6zM306 357h6v6h-6zM318 357h6v6h-6z"/>
<path fill="#ffc500" d="M104 0h6v5h-6zM121 0h12v5h-12zM179 0h6v5h-6zM225 0h6v5h-6zM272 0h5v5h-5zM17 5h6v6h-6zM208 11h6v6h-6zM185 17h6v5h-6zM364 17h6v5h-6zM0 46h6v5h-6zM0 98h6v5h-6zM0 115h6v6h-6zM156 115h6v6h-6zM179 115h6v6h-6zM0 132h6v6h-6zM156 132h6v6h-6zM0 144h6v6h-6zM0 161h6v6h-6zM156 167h6v6h-6zM156 178h6v6h-6zM179 178h6v6h-6zM23 184h6v6h-6zM364 196h6v5h-6zM202 219h6v6h-6zM208 236h6v6h-6zM179 248h6v5h-6zM214 248h6v5h-6zM277 259h6v6h-6zM0 317h6v6h-6zM353 357h5v6h-5zM46 363h6v6h-6zM191 363h6v6h-6zM335 363h6v6h-6z"/>
<path fill="#ff4900" d="M116 0h5v5h-5zM364 28h6v6h-6zM162 103h6v6h-6zM0 109h6v6h-6zM156 126h6v6h-6zM214 201h6v6h-6z"/>
<path fill="#cdff2a" d="M133 0h6v5h-6zM168 0h5v5h-5zM116 5h5v6h-5zM220 5h5v6h-5zM277 5h6v6h-6zM0 22h6v6h-6zM179 22h12v6h-12zM272 22h5v6h-5zM272 28h5v6h-5zM93 46h5v5h-5zM69 51h6v6h-6zM6 74h6v6h-6zM87 80h6v6h-6zM12 86h5v6h-5zM29 86h11v6h-11zM81 86h6v6h-6zM93 86h5v6h-5zM156 92h6v6h-6zM289 92h6v6h-6zM58 103h6v6h-6zM358 109h6v6h-6zM277 115h6v6h-6zM358 115h6v6h-6zM156 150h6v5h-6zM277 150h6v5h-6zM156 155h6v6h-6zM364 167h6v6h-6zM156 173h6v5h-6zM364 173h6v5h-6zM104 178h6v6h-6zM353 178h5v6h-5zM272 184h5v6h-5zM23 190h6v6h-6zM364 190h6v6h-6zM220 196h5v5h-5zM358 213h6v6h-6zM17 219h6v6h-6zM121 219h6v6h-6zM17 236h6v6h-6zM17 242h6v6h-6zM277 242h6v6h-6zM0 248h6v5h-6zM93 265h5v6h-5zM6 271h6v6h-6zM52 271h6v6h-6zM191 271h6v6h-6zM312 271h6v6h-6zM46 282h6v6h-6zM214 282h6v6h-6zM254 282h6v6h-6zM312 282h6v6h-6zM0 311h6v6h-6zM347 334h6v6h-6zM0 340h6v6h-6zM289 340h6v6h-6zM364 340h6v6h-6zM6 346h6v6h-6zM12 352h5v5h-5zM358 352h6v5h-6zM335 357h6v6h-6zM58 363h6v6h-6zM104 363h6v6h-6zM330 363h5v6h-5zM358 363h6v6h-6z"/>
<path fill="#ff8900" d="M145 0h5v5h-5zM156 0h6v5h-6zM254 0h12v5h-12zM12 17h5v5h-5zM364 22h6v6h-6zM364 51h6v6h-6zM0 80h12v6h-12zM162 92h6v6h-6zM156 121h6v5h-6zM0 138h6v6h-6zM156 161h6v6h-6zM0 167h6v6h-6zM98 178h6v6h-6zM0 288h6v6h-6zM364 294h6v6h-6zM0 323h6v6h-6zM364 357h6v6h-6zM81 363h6v6h-6zM162 363h6v6h-6zM231 363h12v6h-12z"/>
<path fill="#ff1600" d="M150 0h6v5h-6zM0 121h6v5h-6zM0 150h6v5h-6zM64 363h5v6h-5z"/>
<path fill="#06edf1" d="M208 0h6v5h-6zM81 5h6v6h-6zM185 5h6v6h-6zM35 11h5v6h-5zM46 11h6v6h-6zM40 17h6v5h-6zM191 17h6v5h-6zM260 17h6v5h-6zM260 22h6v6h-6zM312 22h12v6h-12zM87 34h6v6h-6zM29 40h6v6h-6zM35 46h5v5h-5zM341 46h6v5h-6zM23 51h6v6h-6zM17 63h6v6h-6zM87 63h6v6h-6zM289 63h6v6h-6zM23 69h6v5h-6zM35 69h5v5h-5zM87 69h6v5h-6zM23 74h12v6h-12zM81 74h6v6h-6zM289 74h6v6h-6zM318 74h6v6h-6zM197 80h5v6h-5zM306 80h6v6h-6zM40 86h12v6h-12zM52 92h6v6h-6zM64 92h11v6h-11zM185 92h6v6h-6zM197 92h5v6h-5zM214 92h6v6h-6zM58 98h6v5h-6zM69 98h6v5h-6zM214 98h11v5h-11zM231 98h6v5h-6zM104 103h6v6h-6zM179 103h6v6h-6zM220 103h5v6h-5zM243 103h11v6h-11zM266 103h6v6h-6zM6 109h11v6h-11zM29 109h6v6h-6zM93 109h5v6h-5zM104 109h6v6h-6zM202 109h6v6h-6zM214 109h11v6h-11zM243 109h29v6h-29zM283 109h12v6h-12zM29 115h6v6h-6zM162 115h6v6h-6zM208 115h12v6h-12zM231 115h6v6h-6zM289 115h6v6h-6zM104 121h6v5h-6zM121 121h6v5h-6zM191 121h6v5h-6zM208 121h6v5h-6zM220 121h5v5h-5zM249 121h11v5h-11zM353 121h5v5h-5zM104 126h6v6h-6zM121 126h6v6h-6zM191 126h6v6h-6zM202 126h18v6h-18zM225 126h12v6h-12zM254 126h12v6h-12zM272 126h5v6h-5zM364 126h6v6h-6zM127 132h6v6h-6zM191 132h29v6h-29zM225 132h12v6h-12zM249 132h11v6h-11zM266 132h11v6h-11zM301 132h5v6h-5zM318 132h6v6h-6zM87 138h6v6h-6zM191 138h6v6h-6zM208 138h12v6h-12zM225 138h6v6h-6zM243 138h6v6h-6zM260 138h17v6h-17zM301 138h5v6h-5zM81 144h6v6h-6zM133 144h6v6h-6zM191 144h6v6h-6zM220 144h5v6h-5zM237 144h6v6h-6zM249 144h11v6h-11zM266 144h11v6h-11zM358 144h6v6h-6zM191 150h17v5h-17zM220 150h11v5h-11zM249 150h17v5h-17zM272 150h5v5h-5zM312 150h6v5h-6zM93 155h5v6h-5zM133 155h6v6h-6zM208 155h12v6h-12zM225 155h6v6h-6zM249 155h23v6h-23zM110 161h6v6h-6zM133 161h6v6h-6zM191 161h6v6h-6zM202 161h6v6h-6zM231 161h6v6h-6zM243 161h6v6h-6zM254 161h6v6h-6zM266 161h6v6h-6zM306 161h6v6h-6zM133 167h6v6h-6zM185 167h12v6h-12zM249 167h5v6h-5zM17 173h6v5h-6zM81 173h6v5h-6zM185 173h6v5h-6zM197 173h23v5h-23zM243 173h11v5h-11zM260 173h6v5h-6zM185 178h6v6h-6zM208 178h12v6h-12zM237 178h6v6h-6zM116 184h5v6h-5zM12 190h11v6h-11zM110 190h6v6h-6zM0 201h6v6h-6zM168 201h5v6h-5zM179 201h6v6h-6zM249 201h5v6h-5zM6 207h6v6h-6zM87 207h6v6h-6zM214 207h6v6h-6zM0 219h6v6h-6zM12 219h5v6h-5zM220 219h17v6h-17zM318 219h6v6h-6zM69 225h6v5h-6zM225 225h6v5h-6zM358 225h6v5h-6zM0 230h6v6h-6zM12 230h5v6h-5zM121 230h12v6h-12zM156 230h12v6h-12zM254 230h6v6h-6zM364 230h6v6h-6zM0 236h6v6h-6zM58 236h6v6h-6zM93 236h5v6h-5zM145 236h11v6h-11zM179 236h6v6h-6zM225 236h6v6h-6zM254 236h6v6h-6zM46 242h6v6h-6zM133 242h12v6h-12zM98 248h6v5h-6zM121 248h6v5h-6zM139 248h6v5h-6zM87 253h6v6h-6zM98 253h6v6h-6zM127 253h6v6h-6zM139 253h6v6h-6zM260 253h6v6h-6zM98 259h6v6h-6zM127 259h12v6h-12zM197 259h5v6h-5zM254 259h6v6h-6zM266 259h6v6h-6zM289 259h6v6h-6zM116 265h5v6h-5zM133 265h6v6h-6zM312 265h6v6h-6zM23 271h6v6h-6zM110 271h11v6h-11zM150 271h6v6h-6zM168 271h5v6h-5zM283 271h18v6h-18zM306 271h6v6h-6zM17 277h6v5h-6zM81 277h12v5h-12zM179 277h6v5h-6zM202 277h6v5h-6zM295 277h6v5h-6zM12 282h5v6h-5zM110 282h6v6h-6zM121 282h6v6h-6zM277 282h6v6h-6zM289 282h12v6h-12zM12 288h5v6h-5zM98 288h12v6h-12zM139 288h6v6h-6zM168 288h5v6h-5zM185 288h6v6h-6zM266 288h6v6h-6zM283 288h6v6h-6zM324 288h6v6h-6zM75 294h6v6h-6zM98 294h6v6h-6zM116 294h11v6h-11zM156 294h12v6h-12zM191 294h11v6h-11zM225 294h6v6h-6zM243 294h6v6h-6zM260 294h6v6h-6zM324 294h6v6h-6zM93 300h5v5h-5zM110 300h6v5h-6zM133 300h17v5h-17zM156 300h6v5h-6zM191 300h6v5h-6zM231 300h6v5h-6zM249 300h5v5h-5zM324 300h6v5h-6zM335 300h6v5h-6zM347 300h6v5h-6zM12 305h5v6h-5zM116 305h5v6h-5zM133 305h23v6h-23zM162 305h6v6h-6zM254 305h6v6h-6zM335 305h6v6h-6zM75 311h6v6h-6zM87 311h11v6h-11zM121 311h12v6h-12zM139 311h11v6h-11zM231 311h6v6h-6zM306 311h6v6h-6zM335 311h6v6h-6zM12 317h5v6h-5zM40 317h6v6h-6zM87 317h11v6h-11zM110 317h6v6h-6zM139 317h6v6h-6zM179 317h6v6h-6zM220 317h5v6h-5zM306 317h6v6h-6zM35 323h11v6h-11zM75 323h6v6h-6zM121 323h6v6h-6zM145 323h17v6h-17zM237 323h6v6h-6zM289 323h6v6h-6zM301 323h11v6h-11zM324 323h6v6h-6zM347 323h6v6h-6zM12 329h5v5h-5zM40 329h12v5h-12zM116 329h5v5h-5zM237 329h6v5h-6zM40 334h6v6h-6zM69 334h6v6h-6zM110 334h29v6h-29zM156 334h6v6h-6zM29 340h11v6h-11zM110 340h17v6h-17zM121 352h6v5h-6zM277 352h6v5h-6zM306 352h6v5h-6zM81 357h6v6h-6zM116 357h5v6h-5zM347 357h6v6h-6zM277 363h6v6h-6z"/>
<path fill="#004cff" d="M75 5h6v6h-6zM197 5h5v6h-5zM75 11h6v6h-6zM6 17h6v5h-6zM75 17h12v5h-12zM6 22h6v6h-6zM81 22h6v6h-6zM75 28h6v6h-6zM75 34h12v6h-12zM75 40h6v6h-6zM75 46h6v5h-6zM6 51h6v6h-6zM75 51h12v6h-12zM75 57h12v6h-12zM75 63h6v6h-6zM75 74h6v6h-6zM87 74h6v6h-6zM185 80h6v6h-6zM179 92h6v6h-6zM12 98h5v5h-5zM168 98h5v5h-5zM98 126h6v6h-6zM168 132h5v6h-5zM104 138h6v6h-6zM168 138h5v6h-5zM104 144h6v6h-6zM168 144h5v6h-5zM98 150h12v5h-12zM168 150h5v5h-5zM358 150h6v5h-6zM98 155h12v6h-12zM168 155h5v6h-5zM98 161h6v6h-6zM168 161h5v6h-5zM104 167h12v6h-12zM110 184h6v6h-6zM214 184h17v6h-17zM191 190h11v6h-11zM214 190h6v6h-6zM12 196h5v5h-5zM191 196h6v5h-6zM93 201h5v6h-5zM168 207h5v6h-5zM98 213h6v6h-6zM98 219h6v6h-6zM173 219h6v6h-6zM6 225h6v5h-6zM98 225h6v5h-6zM173 225h12v5h-12zM191 225h11v5h-11zM6 230h6v6h-6zM173 236h6v6h-6zM173 242h6v6h-6zM191 253h6v6h-6zM179 259h6v6h-6zM214 259h6v6h-6zM173 265h12v6h-12zM220 265h11v6h-11zM260 265h12v6h-12zM220 271h5v6h-5zM64 277h5v5h-5zM75 277h6v5h-6zM324 277h6v5h-6zM341 277h12v5h-12zM358 277h6v5h-6zM69 282h24v6h-24zM341 282h12v6h-12zM75 288h12v6h-12zM173 294h12v6h-12zM358 300h6v5h-6zM168 305h5v6h-5zM266 305h6v6h-6zM260 317h12v6h-12zM353 317h5v6h-5zM6 323h11v6h-11zM81 323h12v6h-12zM162 323h6v6h-6zM260 323h12v6h-12zM353 323h5v6h-5zM6 329h6v5h-6zM81 329h12v5h-12zM162 329h11v5h-11zM254 329h6v5h-6zM266 329h6v5h-6zM358 329h6v5h-6zM81 334h6v6h-6zM272 334h5v6h-5zM87 346h6v6h-6zM283 346h6v6h-6zM254 352h6v5h-6zM237 357h12v6h-12z"/>
<path fill="#008aff" d="M191 5h6v6h-6zM69 11h6v6h-6zM87 11h6v6h-6zM197 11h5v6h-5zM87 17h6v5h-6zM6 28h6v6h-6zM81 28h6v6h-6zM87 40h6v6h-6zM29 46h6v5h-6zM81 46h6v5h-6zM6 57h6v6h-6zM81 63h6v6h-6zM104 63h6v6h-6zM81 69h6v5h-6zM185 74h6v6h-6zM191 80h6v6h-6zM87 86h6v6h-6zM191 86h6v6h-6zM202 86h6v6h-6zM318 86h6v6h-6zM6 98h6v5h-6zM64 98h5v5h-5zM179 98h6v5h-6zM249 98h5v5h-5zM6 103h11v6h-11zM98 103h6v6h-6zM98 109h6v6h-6zM98 115h6v6h-6zM358 121h6v5h-6zM318 126h6v6h-6zM358 126h6v6h-6zM93 132h5v6h-5zM104 132h6v6h-6zM173 132h6v6h-6zM98 138h6v6h-6zM110 138h6v6h-6zM98 144h6v6h-6zM358 155h6v6h-6zM306 167h6v6h-6zM75 173h6v5h-6zM87 173h11v5h-11zM266 178h6v6h-6zM93 184h11v6h-11zM0 190h6v6h-6zM98 190h12v6h-12zM6 196h6v5h-6zM98 196h12v5h-12zM179 196h6v5h-6zM98 201h6v6h-6zM179 207h6v6h-6zM277 207h6v6h-6zM0 213h6v6h-6zM93 213h5v6h-5zM185 213h6v6h-6zM179 219h6v6h-6zM197 219h5v6h-5zM12 225h5v5h-5zM98 230h6v6h-6zM179 230h6v6h-6zM12 236h5v6h-5zM98 236h6v6h-6zM98 242h6v6h-6zM93 248h5v5h-5zM208 248h6v5h-6zM6 253h6v6h-6zM173 253h6v6h-6zM93 259h5v6h-5zM168 265h5v6h-5zM179 271h6v6h-6zM58 277h6v5h-6zM69 277h6v5h-6zM156 277h6v5h-6zM260 277h6v5h-6zM179 288h6v6h-6zM347 288h6v6h-6zM81 294h6v6h-6zM168 294h5v6h-5zM81 300h6v5h-6zM75 305h6v6h-6zM12 311h5v6h-5zM81 311h6v6h-6zM260 311h6v6h-6zM6 317h6v6h-6zM81 317h6v6h-6zM162 317h6v6h-6zM272 317h5v6h-5zM116 323h5v6h-5zM127 323h12v6h-12zM179 323h6v6h-6zM254 323h6v6h-6zM358 323h6v6h-6zM0 329h6v5h-6zM75 329h6v5h-6zM283 329h6v5h-6zM347 329h11v5h-11zM0 334h6v6h-6zM353 334h5v6h-5zM81 340h12v6h-12zM277 340h12v6h-12zM69 346h6v6h-6zM69 352h6v5h-6zM81 352h6v5h-6zM272 352h5v5h-5zM289 352h6v5h-6zM87 357h6v6h-6zM254 357h12v6h-12zM277 357h6v6h-6zM358 357h6v6h-6zM69 363h6v6h-6z"/>
<path fill="#0006ff" d="M202 5h6v6h-6zM81 11h6v6h-6zM185 11h12v6h-12zM75 22h6v6h-6zM6 40h6v6h-6zM81 40h6v6h-6zM75 69h6v5h-6zM173 92h6v6h-6zM173 98h6v5h-6zM168 103h11v6h-11zM168 109h11v6h-11zM168 115h5v6h-5zM98 121h6v5h-6zM162 121h11v5h-11zM93 126h5v6h-5zM162 126h11v6h-11zM162 132h6v6h-6zM162 138h6v6h-6zM162 144h6v6h-6zM162 150h6v5h-6zM162 155h6v6h-6zM93 161h5v6h-5zM93 167h11v6h-11zM98 173h18v5h-18zM168 173h5v5h-5zM168 178h5v6h-5zM104 184h6v6h-6zM208 184h6v6h-6zM202 190h12v6h-12zM197 196h17v5h-17zM173 201h6v6h-6zM191 201h17v6h-17zM202 207h6v6h-6zM6 213h6v6h-6zM168 213h11v6h-11zM197 213h5v6h-5zM6 219h6v6h-6zM168 219h5v6h-5zM185 219h12v6h-12zM168 225h5v5h-5zM185 225h6v5h-6zM168 230h11v6h-11zM185 230h17v6h-17zM6 236h6v6h-6zM168 236h5v6h-5zM185 236h17v6h-17zM6 242h6v6h-6zM168 242h5v6h-5zM185 242h12v6h-12zM202 242h6v6h-6zM6 248h6v5h-6zM168 248h11v5h-11zM185 248h23v5h-23zM93 253h5v6h-5zM202 253h12v6h-12zM173 259h6v6h-6zM202 259h12v6h-12zM214 265h6v6h-6zM330 277h11v5h-11zM353 277h5v5h-5zM353 282h11v6h-11zM353 288h11v6h-11zM353 294h11v6h-11zM6 300h6v5h-6zM173 300h6v5h-6zM353 300h5v5h-5zM6 305h6v6h-6zM173 305h6v6h-6zM353 305h5v6h-5zM6 311h6v6h-6zM168 311h11v6h-11zM266 311h6v6h-6zM353 311h5v6h-5zM168 317h11v6h-11zM168 323h11v6h-11zM179 329h6v5h-6zM260 329h6v5h-6zM6 334h6v6h-6zM87 334h6v6h-6zM260 334h12v6h-12zM283 334h6v6h-6zM266 340h6v6h-6zM266 346h6v6h-6zM87 352h6v5h-6zM260 352h12v5h-12zM266 357h6v6h-6zM289 357h6v6h-6z"/>
<path fill="#00bfff" d="M40 11h6v6h-6zM69 17h6v5h-6zM225 17h6v5h-6zM225 22h6v6h-6zM87 28h6v6h-6zM6 34h6v6h-6zM341 34h6v6h-6zM353 40h5v6h-5zM40 46h6v5h-6zM231 46h6v5h-6zM249 46h5v5h-5zM40 51h6v6h-6zM87 57h6v6h-6zM341 57h6v6h-6zM318 69h6v5h-6zM29 80h6v6h-6zM75 80h6v6h-6zM312 80h6v6h-6zM197 86h5v6h-5zM6 92h6v6h-6zM58 92h6v6h-6zM168 92h5v6h-5zM202 92h6v6h-6zM266 92h11v6h-11zM52 98h6v5h-6zM127 98h6v5h-6zM93 103h5v6h-5zM260 103h6v6h-6zM318 103h6v6h-6zM208 109h6v6h-6zM225 109h12v6h-12zM306 109h6v6h-6zM93 115h5v6h-5zM173 115h6v6h-6zM220 115h5v6h-5zM75 121h6v5h-6zM93 121h5v5h-5zM185 121h6v5h-6zM202 121h6v5h-6zM214 121h6v5h-6zM272 121h5v5h-5zM17 126h6v6h-6zM173 126h6v6h-6zM185 126h6v6h-6zM220 126h5v6h-5zM243 126h6v6h-6zM306 126h6v6h-6zM330 126h5v6h-5zM35 132h5v6h-5zM98 132h6v6h-6zM185 132h6v6h-6zM220 132h5v6h-5zM243 132h6v6h-6zM260 132h6v6h-6zM341 132h6v6h-6zM358 132h6v6h-6zM6 138h6v6h-6zM23 138h6v6h-6zM81 138h6v6h-6zM93 138h5v6h-5zM185 138h6v6h-6zM220 138h5v6h-5zM231 138h6v6h-6zM249 138h5v6h-5zM295 138h6v6h-6zM306 138h6v6h-6zM35 144h5v6h-5zM52 144h6v6h-6zM69 144h6v6h-6zM93 144h5v6h-5zM185 144h6v6h-6zM202 144h12v6h-12zM231 144h6v6h-6zM324 144h6v6h-6zM93 150h5v5h-5zM185 150h6v5h-6zM214 150h6v5h-6zM237 150h6v5h-6zM266 150h6v5h-6zM306 150h6v5h-6zM75 155h12v6h-12zM231 155h18v6h-18zM272 155h5v6h-5zM301 155h11v6h-11zM318 155h6v6h-6zM121 161h6v6h-6zM214 161h11v6h-11zM260 161h6v6h-6zM347 161h6v6h-6zM23 167h6v6h-6zM58 167h6v6h-6zM75 167h12v6h-12zM145 167h5v6h-5zM197 167h5v6h-5zM208 167h6v6h-6zM220 167h11v6h-11zM243 167h6v6h-6zM272 167h5v6h-5zM330 167h5v6h-5zM23 173h6v5h-6zM133 173h6v5h-6zM191 173h6v5h-6zM220 173h5v5h-5zM254 173h6v5h-6zM272 173h11v5h-11zM295 173h6v5h-6zM133 178h12v6h-12zM197 178h5v6h-5zM243 178h6v6h-6zM260 178h6v6h-6zM289 178h6v6h-6zM231 184h6v6h-6zM289 184h6v6h-6zM347 184h6v6h-6zM116 190h11v6h-11zM139 190h6v6h-6zM156 190h12v6h-12zM0 196h6v5h-6zM110 196h6v5h-6zM46 201h6v6h-6zM104 201h6v6h-6zM133 201h6v6h-6zM0 207h6v6h-6zM93 207h11v6h-11zM133 207h6v6h-6zM220 207h11v6h-11zM243 207h11v6h-11zM295 207h11v6h-11zM318 207h6v6h-6zM330 207h5v6h-5zM110 213h6v6h-6zM162 213h6v6h-6zM220 213h5v6h-5zM277 213h6v6h-6zM347 213h6v6h-6zM0 225h6v5h-6zM104 225h6v5h-6zM150 225h6v5h-6zM214 225h11v5h-11zM231 225h6v5h-6zM312 225h6v5h-6zM324 225h6v5h-6zM64 230h5v6h-5zM116 230h5v6h-5zM150 230h6v6h-6zM225 230h6v6h-6zM237 230h6v6h-6zM283 230h12v6h-12zM318 230h6v6h-6zM347 230h17v6h-17zM46 236h6v6h-6zM110 236h6v6h-6zM231 236h6v6h-6zM260 236h17v6h-17zM283 236h12v6h-12zM364 236h6v6h-6zM0 242h6v6h-6zM12 242h5v6h-5zM52 242h6v6h-6zM127 242h6v6h-6zM179 242h6v6h-6zM289 242h6v6h-6zM150 248h6v5h-6zM266 248h6v5h-6zM335 248h6v5h-6zM133 253h6v6h-6zM254 253h6v6h-6zM6 259h6v6h-6zM139 259h6v6h-6zM272 265h5v6h-5zM260 271h17v6h-17zM318 271h6v6h-6zM93 277h17v5h-17zM116 277h5v5h-5zM127 277h18v5h-18zM173 277h6v5h-6zM208 277h6v5h-6zM266 277h6v5h-6zM283 277h12v5h-12zM17 282h6v6h-6zM116 282h5v6h-5zM173 282h6v6h-6zM260 282h12v6h-12zM283 282h6v6h-6zM335 282h6v6h-6zM121 288h6v6h-6zM133 288h6v6h-6zM156 288h6v6h-6zM225 288h6v6h-6zM6 294h6v6h-6zM93 294h5v6h-5zM127 294h12v6h-12zM145 294h11v6h-11zM185 294h6v6h-6zM266 294h6v6h-6zM295 294h6v6h-6zM330 294h5v6h-5zM347 294h6v6h-6zM116 300h5v5h-5zM150 300h6v5h-6zM185 300h6v5h-6zM237 300h12v5h-12zM289 300h12v5h-12zM81 305h6v6h-6zM104 305h6v6h-6zM358 305h6v6h-6zM98 311h6v6h-6zM110 311h6v6h-6zM133 311h6v6h-6zM162 311h6v6h-6zM272 311h5v6h-5zM318 311h12v6h-12zM29 317h11v6h-11zM116 317h23v6h-23zM150 317h6v6h-6zM277 317h12v6h-12zM295 317h11v6h-11zM318 317h6v6h-6zM330 317h5v6h-5zM358 317h6v6h-6zM98 323h6v6h-6zM110 323h6v6h-6zM283 323h6v6h-6zM295 323h6v6h-6zM341 323h6v6h-6zM98 329h18v5h-18zM127 329h6v5h-6zM139 329h6v5h-6zM150 329h12v5h-12zM277 329h6v5h-6zM29 334h11v6h-11zM104 334h6v6h-6zM225 334h6v6h-6zM52 340h6v6h-6zM127 340h6v6h-6zM272 340h5v6h-5zM301 340h5v6h-5zM23 346h17v6h-17zM81 346h6v6h-6zM98 346h6v6h-6zM110 346h6v6h-6zM127 346h6v6h-6zM208 346h6v6h-6zM272 346h5v6h-5zM318 346h6v6h-6zM46 352h6v5h-6zM75 352h6v5h-6zM104 352h6v5h-6zM179 352h6v5h-6zM283 352h6v5h-6zM312 352h6v5h-6zM69 357h12v6h-12zM272 357h5v6h-5zM283 357h6v6h-6zM295 357h11v6h-11zM312 357h6v6h-6zM243 363h6v6h-6zM266 363h6v6h-6z"/>
<path fill="#0000ce" d="M173 207h6v6h-6zM191 207h11v6h-11zM191 213h6v6h-6zM197 242h5v6h-5z"/>
<path fill="#b40000" d="M179 346h6v6h-6z"/>
</svg>
<svg style="left:0;top:0" width="640" height="480" viewBox="0 0 640 480">
<path d="M107.5 58.5H477.5V427.5H107.5z" fill="none" stroke="#000" stroke-width="1" shape-rendering="crispEdges"/>
<path d="M110.5 428V432.3" stroke="#000" stroke-width="1" shape-rendering="crispEdges"/>
<path d="M110.0 432H111.0V432.6H110.0z" fill="#000" opacity="0.45"/>
<path d="M107 424.5H102.7" stroke="#000" stroke-width="1" shape-rendering="crispEdges"/>
<path d="M103 424.0V425.0H102.3V424.0z" fill="#000" opacity="0.45"/>
<path d="M168.5 428V432.3" stroke="#000" stroke-width="1" shape-rendering="crispEdges"/>
<path d="M168.0 432H169.0V432.6H168.0z" fill="#000" opacity="0.45"/>
<path d="M107 367.5H102.7" stroke="#000" stroke-width="1" shape-rendering="crispEdges"/>
<path d="M103 367.0V368.0H102.3V367.0z" fill="#000" opacity="0.45"/>
<path d="M226.5 428V432.3" stroke="#000" stroke-width="1" shape-rendering="crispEdges"/>
<path d="M226.0 432H227.0V432.6H226.0z" fill="#000" opacity="0.45"/>
<path d="M107 309.5H102.7" stroke="#000" stroke-width="1" shape-rendering="crispEdges"/>
<path d="M103 309.0V310.0H102.3V309.0z" fill="#000" opacity="0.45"/>
<path d="M283.5 428V432.3" stroke="#000" stroke-width="1" shape-rendering="crispEdges"/>
<path d="M283.0 432H284.0V432.6H283.0z" fill="#000" opacity="0.45"/>
<path d="M107 251.5H102.7" stroke="#000" stroke-width="1" shape-rendering="crispEdges"/>
<path d="M103 251.0V252.0H102.3V251.0z" fill="#000" opacity="0.45"/>
<path d="M341.5 428V432.3" stroke="#000" stroke-width="1" shape-rendering="crispEdges"/>
<path d="M341.0 432H342.0V432.6H341.0z" fill="#000" opacity="0.45"/>
<path d="M107 193.5H102.7" stroke="#000" stroke-width="1" shape-rendering="crispEdges"/>
<path d="M103 193.0V194.0H102.3V193.0z" fill="#000" opacity="0.45"/>
<path d="M399.5 428V432.3" stroke="#000" stroke-width="1" shape-rendering="crispEdges"/>
<path d="M399.0 432H400.0V432.6H399.0z" fill="#000" opacity="0.45"/>
<path d="M107 136.5H102.7" stroke="#000" stroke-width="1" shape-rendering="crispEdges"/>
<path d="M103 136.0V137.0H102.3V136.0z" fill="#000" opacity="0.45"/>
<path d="M457.5 428V432.3" stroke="#000" stroke-width="1" shape-rendering="crispEdges"/>
<path d="M457.0 432H458.0V432.6H457.0z" fill="#000" opacity="0.45"/>
<path d="M107 78.5H102.7" stroke="#000" stroke-width="1" shape-rendering="crispEdges"/>
<path d="M103 78.0V79.0H102.3V78.0z" fill="#000" opacity="0.45"/>
</svg>
<svg class="cb" style="left:490px;top:50px" width="40" height="390" viewBox="0 0 40 390">
<defs><linearGradient id="jg" x1="0" y1="0" x2="0" y2="1"><stop offset="0.0000" stop-color="#800000"/><stop offset="0.0156" stop-color="#920000"/><stop offset="0.0312" stop-color="#a40000"/><stop offset="0.0469" stop-color="#b60000"/><stop offset="0.0625" stop-color="#c80000"/><stop offset="0.0781" stop-color="#da0000"/><stop offset="0.0938" stop-color="#ec0400"/><stop offset="0.1094" stop-color="#fe1200"/><stop offset="0.1250" stop-color="#ff2100"/><stop offset="0.1406" stop-color="#ff3000"/><stop offset="0.1562" stop-color="#ff3f00"/><stop offset="0.1719" stop-color="#ff4d00"/><stop offset="0.1875" stop-color="#ff5c00"/><stop offset="0.2031" stop-color="#ff6b00"/><stop offset="0.2188" stop-color="#ff7a00"/><stop offset="0.2344" stop-color="#ff8800"/><stop offset="0.2500" stop-color="#ff9700"/><stop offset="0.2656" stop-color="#ffa600"/><stop offset="0.2812" stop-color="#ffb500"/><stop offset="0.2969" stop-color="#ffc300"/><stop offset="0.3125" stop-color="#ffd200"/><stop offset="0.3281" stop-color="#ffe100"/><stop offset="0.3438" stop-color="#fcf000"/><stop offset="0.3594" stop-color="#effe08"/><stop offset="0.3750" stop-color="#e2ff15"/><stop offset="0.3906" stop-color="#d5ff21"/><stop offset="0.4062" stop-color="#c9ff2e"/><stop offset="0.4219" stop-color="#bcff3b"/><stop offset="0.4375" stop-color="#afff48"/><stop offset="0.4531" stop-color="#a2ff55"/><stop offset="0.4688" stop-color="#95ff62"/><stop offset="0.4844" stop-color="#88ff6f"/><stop offset="0.5000" stop-color="#7bff7b"/><stop offset="0.5156" stop-color="#6fff88"/><stop offset="0.5312" stop-color="#62ff95"/><stop offset="0.5469" stop-color="#55ffa2"/><stop offset="0.5625" stop-color="#48ffaf"/><stop offset="0.5781" stop-color="#3bffbc"/><stop offset="0.5938" stop-color="#2effc9"/><stop offset="0.6094" stop-color="#21ffd5"/><stop offset="0.6250" stop-color="#15ffe2"/><stop offset="0.6406" stop-color="#08efef"/><stop offset="0.6562" stop-color="#00dffc"/><stop offset="0.6719" stop-color="#00cfff"/><stop offset="0.6875" stop-color="#00bfff"/><stop offset="0.7031" stop-color="#00afff"/><stop offset="0.7188" stop-color="#009fff"/><stop offset="0.7344" stop-color="#008fff"/><stop offset="0.7500" stop-color="#0080ff"/><stop offset="0.7656" stop-color="#0070ff"/><stop offset="0.7812" stop-color="#0060ff"/><stop offset="0.7969" stop-color="#0050ff"/><stop offset="0.8125" stop-color="#0040ff"/><stop offset="0.8281" stop-color="#0030ff"/><stop offset="0.8438" stop-color="#0020ff"/><stop offset="0.8594" stop-color="#0010ff"/><stop offset="0.8750" stop-color="#0000ff"/><stop offset="0.8906" stop-color="#0000fe"/><stop offset="0.9062" stop-color="#0000ec"/><stop offset="0.9219" stop-color="#0000da"/><stop offset="0.9375" stop-color="#0000c8"/><stop offset="0.9531" stop-color="#0000b6"/><stop offset="0.9688" stop-color="#0000a4"/><stop offset="0.9844" stop-color="#000092"/><stop offset="1.0000" stop-color="#000080"/></linearGradient></defs>
<rect x="11.60" y="24.40" width="16.80" height="336.00" fill="url(#jg)"/>
<path d="M11.60 25.60L20.00 7.60L28.40 25.60z" fill="#800000"/>
<path d="M11.60 359.20L20.00 377.20L28.40 359.20z" fill="#000080"/>
<path d="M11.60 24.40L20.00 7.60L28.40 24.40L28.40 360.40L20.00 377.20L11.60 360.40z" fill="none" stroke="#000" stroke-width="1.11" stroke-linejoin="miter"/>
<path d="M28.80 360.5H33.00" stroke="#000" stroke-width="1" shape-rendering="crispEdges"/>
<path d="M33.00 360.0h0.7v1h-0.7z" fill="#000" opacity="0.45"/>
<path d="M28.80 322.5H33.00" stroke="#000" stroke-width="1" shape-rendering="crispEdges"/>
<path d="M33.00 322.0h0.7v1h-0.7z" fill="#000" opacity="0.45"/>
<path d="M28.80 284.5H33.00" stroke="#000" stroke-width="1" shape-rendering="crispEdges"/>
<path d="M33.00 284.0h0.7v1h-0.7z" fill="#000" opacity="0.45"/>
<path d="M28.80 246.5H33.00" stroke="#000" stroke-width="1" shape-rendering="crispEdges"/>
<path d="M33.00 246.0h0.7v1h-0.7z" fill="#000" opacity="0.45"/>
<path d="M28.80 208.5H33.00" stroke="#000" stroke-width="1" shape-rendering="crispEdges"/>
<path d="M33.00 208.0h0.7v1h-0.7z" fill="#000" opacity="0.45"/>
<path d="M28.80 170.5H33.00" stroke="#000" stroke-width="1" shape-rendering="crispEdges"/>
<path d="M33.00 170.0h0.7v1h-0.7z" fill="#000" opacity="0.45"/>
<path d="M28.80 132.5H33.00" stroke="#000" stroke-width="1" shape-rendering="crispEdges"/>
<path d="M33.00 132.0h0.7v1h-0.7z" fill="#000" opacity="0.45"/>
<path d="M28.80 94.5H33.00" stroke="#000" stroke-width="1" shape-rendering="crispEdges"/>
<path d="M33.00 94.0h0.7v1h-0.7z" fill="#000" opacity="0.45"/>
<path d="M28.80 56.5H33.00" stroke="#000" stroke-width="1" shape-rendering="crispEdges"/>
<path d="M33.00 56.0h0.7v1h-0.7z" fill="#000" opacity="0.45"/>
</svg>
<div class="t yl" style="left:58.00px;top:417.21px">0</div>
<div class="t xl" style="left:90.79px;top:435.90px">0</div>
<div class="t yl" style="left:58.00px;top:359.46px">10</div>
<div class="t xl" style="left:148.54px;top:435.90px">10</div>
<div class="t yl" style="left:58.00px;top:301.71px">20</div>
<div class="t xl" style="left:206.29px;top:435.90px">20</div>
<div class="t yl" style="left:58.00px;top:243.96px">30</div>
<div class="t xl" style="left:264.04px;top:435.90px">30</div>
<div class="t yl" style="left:58.00px;top:186.21px">40</div>
<div class="t xl" style="left:321.79px;top:435.90px">40</div>
<div class="t yl" style="left:58.00px;top:128.46px">50</div>
<div class="t xl" style="left:379.54px;top:435.90px">50</div>
<div class="t yl" style="left:58.00px;top:70.71px">60</div>
<div class="t xl" style="left:437.29px;top:435.90px">60</div>
<div class="t cl" style="left:528.40px;top:403.80px">0</div>
<div class="t cl" style="left:528.40px;top:365.79px">50</div>
<div class="t cl" style="left:528.40px;top:327.78px">100</div>
<div class="t cl" style="left:528.40px;top:289.77px">150</div>
<div class="t cl" style="left:528.40px;top:251.76px">200</div>
<div class="t cl" style="left:528.40px;top:213.75px">250</div>
<div class="t cl" style="left:528.40px;top:175.75px">300</div>
<div class="t cl" style="left:528.40px;top:137.74px">350</div>
<div class="t cl" style="left:528.40px;top:99.73px">400</div>
</body></html>
